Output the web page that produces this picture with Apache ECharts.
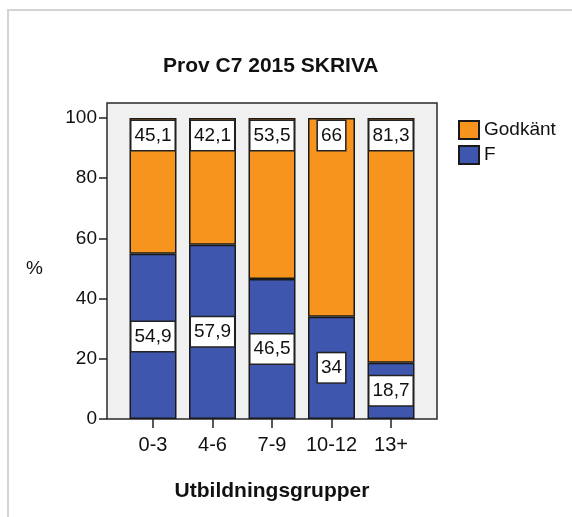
<!DOCTYPE html>
<html>
<head>
<meta charset="utf-8">
<script src="https://cdn.jsdelivr.net/npm/echarts@6/dist/echarts.min.js"></script>
<style>
  html, body { margin: 0; padding: 0; background: #fff; }
  #chart { width: 572px; height: 517px; }
</style>
</head>
<body>
<div id="chart"></div>
<script>
const categories = ['0-3', '4-6', '7-9', '10-12', '13+'];
const godkant = [45.1, 42.1, 53.5, 66, 81.3];
const underkand = [54.9, 57.9, 46.5, 34, 18.7];
const yTicks = {min: 0, max: 100, interval: 20};

const font = "'Liberation Sans', Arial, sans-serif";
const orange = '#f7941e';
const blue = '#3f56ae';

const chart = echarts.init(document.getElementById('chart'), null, {renderer: 'canvas'});

// svensk decimalkomma
const fmt = p => String(p.value).replace('.', ',');

const labelBox = {
    show: true,
    formatter: fmt,
    color: '#111',
    fontFamily: font,
    fontSize: 19,
    backgroundColor: '#fff',
    borderColor: '#222',
    borderWidth: 1.5,
    padding: [5, 3, 5, 3]
};

const option = {
    backgroundColor: '#fff',
    animation: false,
    title: {
        text: 'Prov C7 2015 SKRIVA',
        left: 158,
        top: 51,
        textStyle: {fontFamily: font, fontSize: 21, fontWeight: 'bold', color: '#111'}
    },
    legend: {
        data: ['Godkänt', 'F'],
        orient: 'vertical',
        left: 453,
        top: 115,
        icon: 'rect',
        itemWidth: 20,
        itemHeight: 18,
        itemGap: 5,
        textStyle: {fontFamily: font, fontSize: 19, color: '#111'}
    },
    graphic: [{
        type: 'rect',
        shape: {x: 8, y: 10, width: 620, height: 560},
        style: {fill: 'none', stroke: '#d4d4d4', lineWidth: 2},
        silent: true
    }],
    grid: [
        // ram runt diagrammet
        {left: 107, top: 103, right: 135, bottom: 98, show: true,
         backgroundColor: '#f0f0f0', borderColor: '#2a2a2a', borderWidth: 1.5},
        // staplarna
        {left: 123.25, top: 118, right: 151.25, bottom: 98}
    ],
    xAxis: [
        {gridIndex: 0, type: 'category', data: categories, show: false},
        {
            gridIndex: 1,
            type: 'category',
            data: categories,
            name: 'Utbildningsgrupper',
            nameLocation: 'middle',
            nameGap: 62,
            nameTextStyle: {fontFamily: font, fontSize: 21, fontWeight: 'bold', color: '#111'},
            axisLine: {show: false},
            axisTick: {show: true, alignWithLabel: true, length: 9, lineStyle: {color: '#222', width: 1.5}},
            axisLabel: {interval: 0, fontFamily: font, fontSize: 20, color: '#111', margin: 16}
        }
    ],
    yAxis: [
        {gridIndex: 0, type: 'value', show: false},
        {
            gridIndex: 1,
            type: 'value',
            min: yTicks.min,
            max: yTicks.max,
            interval: yTicks.interval,
            offset: 16.25,
            name: '%',
            nameLocation: 'middle',
            nameRotate: 0,
            nameGap: 64,
            nameTextStyle: {fontFamily: font, fontSize: 19, color: '#111'},
            axisLine: {show: false},
            axisTick: {show: true, length: 8, lineStyle: {color: '#222', width: 1.5}},
            axisLabel: {fontFamily: font, fontSize: 19, color: '#111', margin: 10},
            splitLine: {show: false}
        }
    ],
    series: [
        {
            name: 'F',
            type: 'bar',
            xAxisIndex: 1,
            yAxisIndex: 1,
            stack: 'tot',
            barWidth: 47,
            data: underkand,
            itemStyle: {color: blue, borderColor: '#1a1a1a', borderWidth: 1.5},
            label: Object.assign({}, labelBox, {position: 'inside'})
        },
        {
            name: 'Godkänt',
            type: 'bar',
            xAxisIndex: 1,
            yAxisIndex: 1,
            stack: 'tot',
            barWidth: 47,
            data: godkant,
            itemStyle: {color: orange, borderColor: '#1a1a1a', borderWidth: 1.5},
            label: Object.assign({}, labelBox, {position: 'insideTop', distance: 3})
        }
    ]
};

chart.setOption(option);
</script>
</body>
</html>
